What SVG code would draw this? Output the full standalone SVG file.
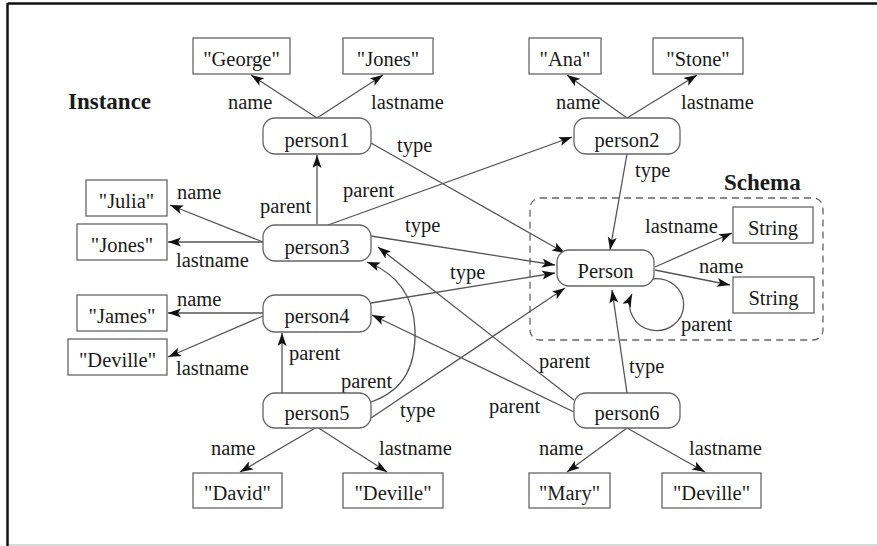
<svg xmlns="http://www.w3.org/2000/svg" width="877" height="546" viewBox="0 0 877 546">
<defs>
<style>
text{font-family:"Liberation Serif","Times New Roman",serif;font-size:20.5px;fill:#1a1a1a}
.b{font-weight:bold;font-size:23px}
.c{text-anchor:middle}
.box{fill:#fff;stroke:#666;stroke-width:1.3}
.e{fill:none;stroke:#555;stroke-width:1.3;marker-end:url(#ah)}
</style>
<marker id="ah" markerUnits="userSpaceOnUse" markerWidth="14" markerHeight="10" refX="13" refY="4.5" orient="auto">
<path d="M0,0 L13,4.5 L0,9 L3,4.5 z" fill="#111"/>
</marker>
</defs>
<rect width="877" height="546" fill="#fff"/>
<g id="frame">
<line x1="7.5" y1="3.5" x2="877" y2="3.5" stroke="#111" stroke-width="2.5"/>
<line x1="7.5" y1="3" x2="7.5" y2="546" stroke="#111" stroke-width="2.5"/>
<line x1="9" y1="545" x2="877" y2="545" stroke="#ccc" stroke-width="1.5"/>
</g>
<g id="labels-section">
<text class="b" x="68" y="109">Instance</text>
<text class="b" x="724" y="190">Schema</text>
</g>
<g id="schema-region">
<rect x="530" y="198" width="293" height="142" rx="10" fill="none" stroke="#666" stroke-width="1.3" stroke-dasharray="7,5"/>
</g>
<g id="connectors">
<line class="e" x1="317" y1="118" x2="251" y2="75"/>
<line class="e" x1="317" y1="118" x2="383" y2="75"/>
<line class="e" x1="371" y1="143" x2="565" y2="253"/>
<line class="e" x1="317" y1="224" x2="317" y2="155"/>
<line class="e" x1="328" y1="225" x2="572" y2="137"/>
<line class="e" x1="371" y1="236" x2="555" y2="265"/>
<line class="e" x1="263" y1="242" x2="170" y2="205"/>
<line class="e" x1="263" y1="242" x2="168" y2="242"/>
<line class="e" x1="627" y1="118" x2="567" y2="75"/>
<line class="e" x1="627" y1="118" x2="697" y2="75"/>
<line class="e" x1="627" y1="154" x2="610" y2="250"/>
<line class="e" x1="655" y1="267" x2="732" y2="233"/>
<line class="e" x1="655" y1="270" x2="730" y2="285"/>
<path class="e" d="M652,279 A27,26 0 1 1 632,294"/>
<line class="e" x1="371" y1="303" x2="555" y2="273"/>
<line class="e" x1="263" y1="313" x2="168" y2="313"/>
<line class="e" x1="263" y1="316" x2="168" y2="357"/>
<line class="e" x1="282" y1="393" x2="282" y2="333"/>
<path class="e" d="M371,402 C405,390 416,365 415,330 C414,298 400,275 367,262"/>
<line class="e" x1="371" y1="418" x2="565" y2="288"/>
<line class="e" x1="317" y1="427" x2="240" y2="472"/>
<line class="e" x1="317" y1="427" x2="387" y2="472"/>
<line class="e" x1="574" y1="400" x2="378" y2="247"/>
<line class="e" x1="574" y1="412" x2="372" y2="315"/>
<line class="e" x1="627" y1="393" x2="612" y2="290"/>
<line class="e" x1="627" y1="428" x2="567" y2="472"/>
<line class="e" x1="627" y1="428" x2="705" y2="472"/>
</g>
<g id="edge-labels">
<text x="228" y="109">name</text>
<text x="371" y="109">lastname</text>
<text x="397" y="152">type</text>
<text x="343" y="197">parent</text>
<text x="260" y="213">parent</text>
<text x="177" y="199">name</text>
<text x="176" y="267">lastname</text>
<text x="405" y="232">type</text>
<text x="556" y="109">name</text>
<text x="681" y="109">lastname</text>
<text x="635" y="177">type</text>
<text x="645" y="233">lastname</text>
<text x="699" y="273">name</text>
<text x="681" y="331">parent</text>
<text x="450" y="279">type</text>
<text x="177" y="306">name</text>
<text x="176" y="375">lastname</text>
<text x="289" y="360">parent</text>
<text x="341" y="388">parent</text>
<text x="400" y="417">type</text>
<text x="211" y="455">name</text>
<text x="379" y="455">lastname</text>
<text x="539" y="368">parent</text>
<text x="489" y="413">parent</text>
<text x="629" y="373">type</text>
<text x="539" y="455">name</text>
<text x="689" y="455">lastname</text>
</g>
<g id="george"><rect class="box" x="193" y="38" width="97" height="36"/><text class="c" x="241.5" y="65.5">"George"</text></g>
<g id="jones1"><rect class="box" x="343" y="38" width="90" height="36"/><text class="c" x="388" y="65.5">"Jones"</text></g>
<g id="ana"><rect class="box" x="529" y="38" width="72" height="36"/><text class="c" x="565" y="65.5">"Ana"</text></g>
<g id="stone"><rect class="box" x="653" y="38" width="90" height="36"/><text class="c" x="698" y="65.5">"Stone"</text></g>
<g id="person1"><rect class="box" x="263" y="118" width="108" height="36" rx="12"/><text class="c" x="317" y="146.5">person1</text></g>
<g id="person2"><rect class="box" x="574" y="118" width="106" height="36" rx="12"/><text class="c" x="627" y="146.5">person2</text></g>
<g id="julia"><rect class="box" x="86" y="180" width="81" height="36"/><text class="c" x="126.5" y="207.5">"Julia"</text></g>
<g id="jones2"><rect class="box" x="77" y="224" width="90" height="36"/><text class="c" x="122" y="251.5">"Jones"</text></g>
<g id="person3"><rect class="box" x="263" y="225" width="108" height="36" rx="12"/><text class="c" x="317" y="253.5">person3</text></g>
<g id="string1"><rect class="box" x="733" y="207" width="80" height="36"/><text class="c" x="773" y="234.5">String</text></g>
<g id="Person"><rect class="box" x="557" y="250" width="97" height="36" rx="12"/><text class="c" x="605.5" y="278">Person</text></g>
<g id="string2"><rect class="box" x="733" y="277" width="81" height="36"/><text class="c" x="773.5" y="304.5">String</text></g>
<g id="james"><rect class="box" x="77" y="295" width="90" height="36"/><text class="c" x="122" y="322.5">"James"</text></g>
<g id="person4"><rect class="box" x="263" y="295" width="108" height="37" rx="12"/><text class="c" x="317" y="323">person4</text></g>
<g id="deville1"><rect class="box" x="68" y="339" width="99" height="36"/><text class="c" x="117.5" y="366.5">"Deville"</text></g>
<g id="person5"><rect class="box" x="263" y="393" width="108" height="35" rx="12"/><text class="c" x="317" y="420">person5</text></g>
<g id="person6"><rect class="box" x="574" y="393" width="106" height="35" rx="12"/><text class="c" x="627" y="420">person6</text></g>
<g id="david"><rect class="box" x="193" y="473" width="89" height="35"/><text class="c" x="237.5" y="500">"David"</text></g>
<g id="deville2"><rect class="box" x="343" y="473" width="100" height="35"/><text class="c" x="393" y="500">"Deville"</text></g>
<g id="mary"><rect class="box" x="529" y="473" width="81" height="35"/><text class="c" x="569.5" y="500">"Mary"</text></g>
<g id="deville3"><rect class="box" x="662" y="473" width="99" height="35"/><text class="c" x="711.5" y="500">"Deville"</text></g>
</svg>
